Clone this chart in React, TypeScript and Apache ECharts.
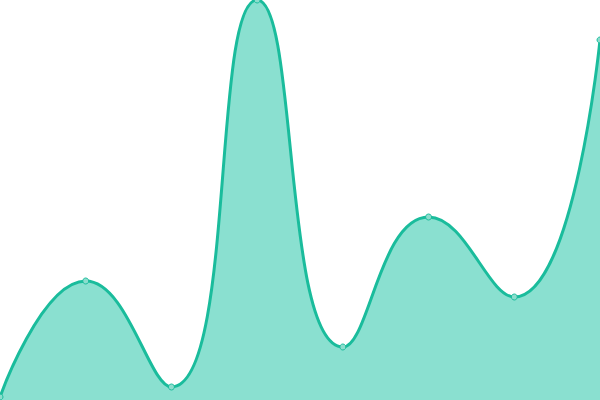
import React, { useEffect, useRef } from "react";
import * as echarts from "echarts";

const categories = ["A", "B", "C", "D", "E", "F", "G", "H"];
const values = [3, 119, 13, 400, 53, 183, 103, 360];

export default function App() {
  const ref = useRef<HTMLDivElement>(null);
  useEffect(() => {
    if (!ref.current) return;
    const chart = echarts.init(ref.current, null, { renderer: "svg" });
    chart.setOption({
      animation: false,
      grid: { left: 0, right: 0, top: 0, bottom: 0 },
      xAxis: {
        type: "category",
        data: categories,
        boundaryGap: false,
        show: false,
      },
      yAxis: { type: "value", min: 0, max: 400, show: false },
      series: [
        {
          type: "line",
          data: values,
          smooth: true,
          symbol: "circle",
          symbolSize: 6,
          showSymbol: true,
          lineStyle: { color: "#1abc9c", width: 3 },
          itemStyle: { color: "#8cddcd", borderColor: "#1abc9c", borderWidth: 1 },
          areaStyle: { color: "#8ae0d0", opacity: 1 },
        },
      ],
    });
    return () => chart.dispose();
  }, []);
  return (
    <div
      ref={ref}
      style={{ position: "fixed", left: 0, top: 0, width: 600, height: 400 }}
    />
  );
}
